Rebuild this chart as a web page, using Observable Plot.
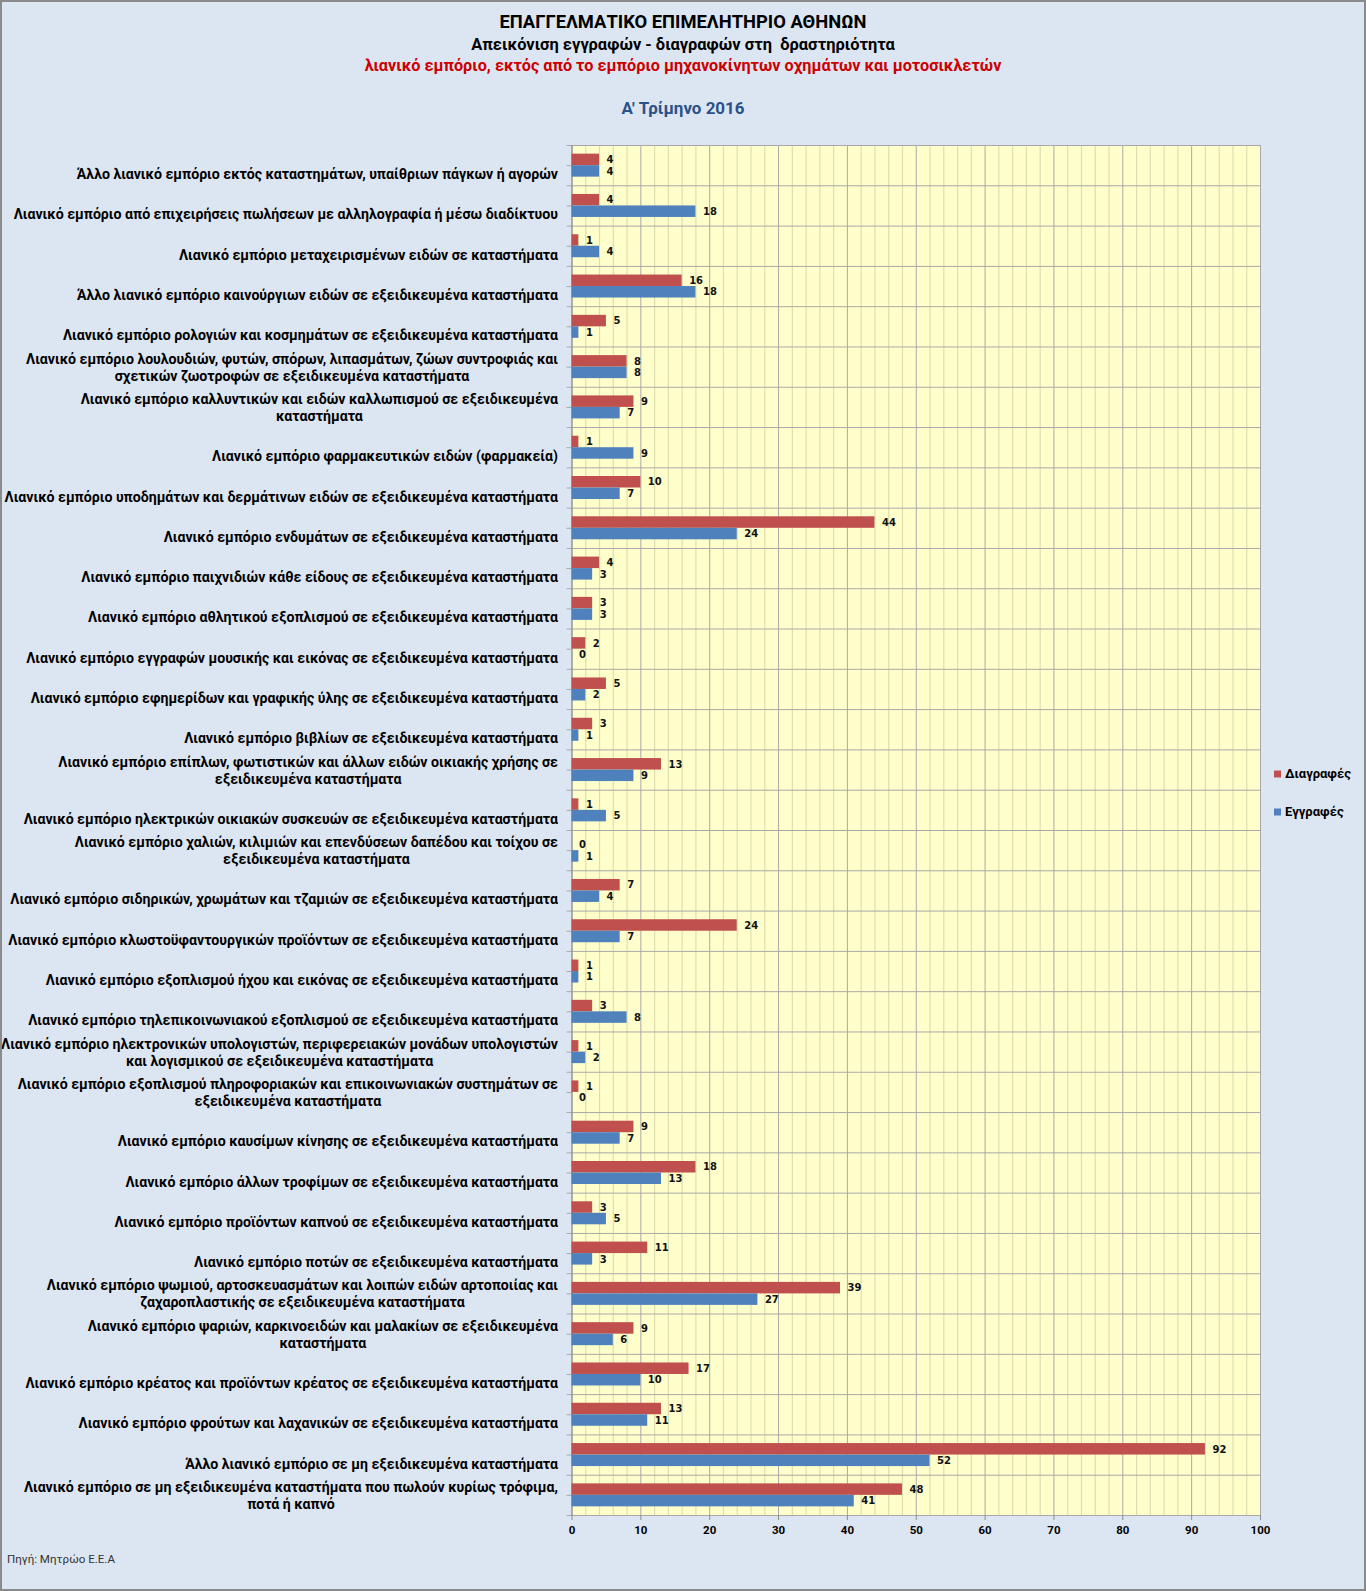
<!DOCTYPE html>
<html>
<head>
<meta charset="utf-8">
<script src="https://cdn.jsdelivr.net/npm/d3@7"></script>
<script src="https://cdn.jsdelivr.net/npm/@observablehq/plot@0.6"></script>
<style>
  html, body { margin: 0; padding: 0; background: #dce6f2; }
  #page { position: relative; width: 1366px; height: 1591px; background: #dce6f2; overflow: hidden; }
  #border { position: absolute; left: 0; top: 0; width: 1366px; height: 1591px; box-sizing: border-box; border: 2px solid #8a8a8a; pointer-events: none; z-index: 5; }
  .t { position: absolute; transform: translate(-50%, -50%); white-space: pre; line-height: 1; font-weight: bold; font-family: Roboto, "Noto Sans", sans-serif; }
  #chart { position: absolute; left: 0; top: 130px; }
  #chart svg { display: block; }
  .leg { position: absolute; white-space: nowrap; line-height: 1; font-weight: bold; font-family: Roboto, "Noto Sans", sans-serif; color: #000; transform: translateY(-50%); }
  .sw { position: absolute; width: 7px; height: 7px; transform: translateY(-50%); }
  #src { position: absolute; left: 7px; top: 1560px; transform: translateY(-50%); white-space: nowrap; line-height: 1; font-family: Roboto, "Noto Sans", sans-serif; color: #333; }
</style>
</head>
<body>
<div id="page">
  <div class="t" id="t1" style="left:683px;top:22px;color:#000;">ΕΠΑΓΓΕΛΜΑΤΙΚΟ ΕΠΙΜΕΛΗΤΗΡΙΟ ΑΘΗΝΩΝ</div>
  <div class="t" id="t2" style="left:683px;top:45px;color:#000;">Απεικόνιση εγγραφών - διαγραφών στη  δραστηριότητα</div>
  <div class="t" id="t3" style="left:683px;top:66px;color:#cc0000;">λιανικό εμπόριο, εκτός από το εμπόριο μηχανοκίνητων οχημάτων και μοτοσικλετών</div>
  <div class="t" id="t4" style="left:683px;top:108px;color:#2a5189;">Α' Τρίμηνο 2016</div>
  <div id="chart"></div>
  <div class="sw" style="left:1274px;top:774px;background:#c0504d;"></div>
  <div class="leg" id="l1" style="left:1285px;top:774px;">Διαγραφές</div>
  <div class="sw" style="left:1274px;top:812px;background:#4f81bd;"></div>
  <div class="leg" id="l2" style="left:1285px;top:812px;">Εγγραφές</div>
  <div id="src">Πηγή: Μητρώο Ε.Ε.Α</div>
  <div id="border"></div>
</div>
<script>
// ---------- data ----------
const categories = [
  "Άλλο λιανικό εμπόριο εκτός καταστημάτων, υπαίθριων πάγκων ή αγορών",
  "Λιανικό εμπόριο από επιχειρήσεις πωλήσεων με αλληλογραφία ή μέσω διαδίκτυου",
  "Λιανικό εμπόριο μεταχειρισμένων ειδών σε καταστήματα",
  "Άλλο λιανικό εμπόριο καινούργιων ειδών σε εξειδικευμένα καταστήματα",
  "Λιανικό εμπόριο ρολογιών και κοσμημάτων σε εξειδικευμένα καταστήματα",
  "Λιανικό εμπόριο λουλουδιών, φυτών, σπόρων, λιπασμάτων, ζώων συντροφιάς και\nσχετικών ζωοτροφών σε εξειδικευμένα καταστήματα",
  "Λιανικό εμπόριο καλλυντικών και ειδών καλλωπισμού σε εξειδικευμένα\nκαταστήματα",
  "Λιανικό εμπόριο φαρμακευτικών ειδών (φαρμακεία)",
  "Λιανικό εμπόριο υποδημάτων και δερμάτινων ειδών σε εξειδικευμένα καταστήματα",
  "Λιανικό εμπόριο ενδυμάτων σε εξειδικευμένα καταστήματα",
  "Λιανικό εμπόριο παιχνιδιών κάθε είδους σε εξειδικευμένα καταστήματα",
  "Λιανικό εμπόριο αθλητικού εξοπλισμού σε εξειδικευμένα καταστήματα",
  "Λιανικό εμπόριο εγγραφών μουσικής και εικόνας σε εξειδικευμένα καταστήματα",
  "Λιανικό εμπόριο εφημερίδων και γραφικής ύλης σε εξειδικευμένα καταστήματα",
  "Λιανικό εμπόριο βιβλίων σε εξειδικευμένα καταστήματα",
  "Λιανικό εμπόριο επίπλων, φωτιστικών και άλλων ειδών οικιακής χρήσης σε\nεξειδικευμένα καταστήματα",
  "Λιανικό εμπόριο ηλεκτρικών οικιακών συσκευών σε εξειδικευμένα καταστήματα",
  "Λιανικό εμπόριο χαλιών, κιλιμιών και επενδύσεων δαπέδου και τοίχου σε\nεξειδικευμένα καταστήματα",
  "Λιανικό εμπόριο σιδηρικών, χρωμάτων και τζαμιών σε εξειδικευμένα καταστήματα",
  "Λιανικό εμπόριο κλωστοϋφαντουργικών προϊόντων σε εξειδικευμένα καταστήματα",
  "Λιανικό εμπόριο εξοπλισμού ήχου και εικόνας σε εξειδικευμένα καταστήματα",
  "Λιανικό εμπόριο τηλεπικοινωνιακού εξοπλισμού σε εξειδικευμένα καταστήματα",
  "Λιανικό εμπόριο ηλεκτρονικών υπολογιστών, περιφερειακών μονάδων υπολογιστών\nκαι λογισμικού σε εξειδικευμένα καταστήματα",
  "Λιανικό εμπόριο εξοπλισμού πληροφοριακών και επικοινωνιακών συστημάτων σε\nεξειδικευμένα καταστήματα",
  "Λιανικό εμπόριο καυσίμων κίνησης σε εξειδικευμένα καταστήματα",
  "Λιανικό εμπόριο άλλων τροφίμων σε εξειδικευμένα καταστήματα",
  "Λιανικό εμπόριο προϊόντων καπνού σε εξειδικευμένα καταστήματα",
  "Λιανικό εμπόριο ποτών σε εξειδικευμένα καταστήματα",
  "Λιανικό εμπόριο ψωμιού, αρτοσκευασμάτων και λοιπών ειδών αρτοποιίας και\nζαχαροπλαστικής σε εξειδικευμένα καταστήματα",
  "Λιανικό εμπόριο ψαριών, καρκινοειδών και μαλακίων σε εξειδικευμένα\nκαταστήματα",
  "Λιανικό εμπόριο κρέατος και προϊόντων κρέατος σε εξειδικευμένα καταστήματα",
  "Λιανικό εμπόριο φρούτων και λαχανικών σε εξειδικευμένα καταστήματα",
  "Άλλο λιανικό εμπόριο σε μη εξειδικευμένα καταστήματα",
  "Λιανικό εμπόριο σε μη εξειδικευμένα καταστήματα που πωλούν κυρίως τρόφιμα,\nποτά ή καπνό"
];
const seriesNames = ["Διαγραφές", "Εγγραφές"];
const deletions =     [4, 4, 1, 16, 5, 8, 9, 1, 10, 44, 4, 3, 2, 5, 3, 13, 1, 0, 7, 24, 1, 3, 1, 1, 9, 18, 3, 11, 39, 9, 17, 13, 92, 48];
const registrations = [4, 18, 4, 18, 1, 8, 7, 9, 7, 24, 3, 3, 0, 2, 1, 9, 5, 1, 4, 7, 1, 8, 2, 0, 7, 13, 5, 3, 27, 6, 10, 11, 52, 41];
const xTickValues = [0, 10, 20, 30, 40, 50, 60, 70, 80, 90, 100];
const seriesColors = ["#c0504d", "#4f81bd"];

// ---------- layout helpers ----------
const ctx = document.createElement("canvas").getContext("2d");
function measure(s, font) { ctx.font = font; return ctx.measureText(s).width; }
function fitSize(s, weight, family, target) { return 100 * target / measure(s, `${weight} 100px ${family}`); }

const FAM = "Roboto";
const titleSpecs = [["t1", 367], ["t2", 424], ["t3", 637], ["t4", 123]];
for (const [id, w] of titleSpecs) {
  const el = document.getElementById(id);
  el.style.fontSize = fitSize(el.textContent, "bold", FAM, w).toFixed(2) + "px";
}
document.getElementById("l1").style.fontSize = fitSize("Διαγραφές", "bold", FAM, 66).toFixed(2) + "px";
document.getElementById("l2").style.fontSize = fitSize("Διαγραφές", "bold", FAM, 66).toFixed(2) + "px";
document.getElementById("src").style.fontSize = fitSize("Πηγή: Μητρώο Ε.Ε.Α", "normal", FAM, 108).toFixed(2) + "px";

const labelSize = fitSize("Λιανικό εμπόριο από επιχειρήσεις πωλήσεων με αλληλογραφία ή μέσω διαδίκτυου", "bold", FAM, 545);
const labelFont = `bold ${labelSize}px ${FAM}`;

// ---------- table ----------
const rows = [];
categories.forEach((c, i) => {
  rows.push({cat: c, series: seriesNames[0], value: deletions[i]});
  rows.push({cat: c, series: seriesNames[1], value: registrations[i]});
});

const W = 1366, svgTop = 130, svgH = 1440;
const frameTop = 145, frameBottom = 1515, frameLeft = 571.5, frameRight = 1260;
const bw = (frameBottom - frameTop) / categories.length;
const barH = 11.5;
const outer = (bw - 2 * barH) / 2;

const singles = categories.filter(c => !c.includes("\n"));
const doubles = categories.filter(c => c.includes("\n"));
const labelGap = 14;

const minorX = d3.range(0, 101, 2).filter(v => v % 10 !== 0);

const textStyle = {fontFamily: FAM, fontWeight: "bold", fontSize: labelSize, fill: "#000"};

const marks = [
  Plot.frame({fill: "#ffffcc", stroke: null}),
  Plot.ruleX(minorX, {stroke: "#deddb0", strokeWidth: 1.2}),
  Plot.ruleX(xTickValues, {stroke: "#a8a8a8"}),
  Plot.ruleY(categories, {y: d => d, dy: -bw / 2, stroke: "#a8a8a8", insetLeft: -5}),
  Plot.ruleY([categories[categories.length - 1]], {y: d => d, dy: bw / 2, stroke: "#a8a8a8", insetLeft: -5}),
  Plot.axisY({tickSize: 5, tickFormat: () => "", stroke: "#a8a8a8", label: null}),
  Plot.ruleX([0], {stroke: "#8c8c8c"}),
  Plot.barX(rows.filter(d => d.series === seriesNames[0]), {x: "value", y: "cat", fill: seriesColors[0], insetTop: outer, insetBottom: outer + barH}),
  Plot.barX(rows.filter(d => d.series === seriesNames[1]), {x: "value", y: "cat", fill: seriesColors[1], insetTop: outer + barH, insetBottom: outer}),
  Plot.text(rows.filter(d => d.series === seriesNames[0]), {x: "value", y: "cat", text: d => String(d.value), dx: 7, dy: -barH / 2, textAnchor: "start", fontFamily: "DejaVu Sans", fontWeight: "bold", fontSize: 10, fill: "#111"}),
  Plot.text(rows.filter(d => d.series === seriesNames[1]), {x: "value", y: "cat", text: d => String(d.value), dx: 7, dy: barH / 2, textAnchor: "start", fontFamily: "DejaVu Sans", fontWeight: "bold", fontSize: 10, fill: "#111"}),
  Plot.axisX(xTickValues, {anchor: "bottom", tickSize: 5, tickPadding: 5, stroke: "#8c8c8c", fontFamily: FAM, fontWeight: "bold", fontSize: 11.5, fill: "#000", label: null}),
  Plot.text(singles, {y: d => d, text: d => d, frameAnchor: "left", dx: -labelGap, dy: 9, textAnchor: "end", ...textStyle}),
  Plot.text(doubles, {y: d => d, text: d => d.split("\n")[0], frameAnchor: "left", dx: -labelGap, dy: -8, textAnchor: "end", ...textStyle}),
  ...doubles.map(c => {
    const w1 = measure(c.split("\n")[0], labelFont);
    return Plot.text([c], {y: d => d, text: d => d.split("\n")[1], frameAnchor: "left", dx: -labelGap - w1 / 2, dy: 9, textAnchor: "middle", ...textStyle});
  })
];

const chart = Plot.plot({
  width: W,
  height: svgH,
  marginTop: frameTop - svgTop,
  marginBottom: svgTop + svgH - frameBottom,
  marginLeft: frameLeft,
  marginRight: W - frameRight,
  x: {domain: [0, 100], label: null},
  y: {domain: categories, padding: 0, round: false, label: null},
  style: {background: "transparent", overflow: "visible"},
  marks
});
document.getElementById("chart").appendChild(chart);
</script>
</body>
</html>
